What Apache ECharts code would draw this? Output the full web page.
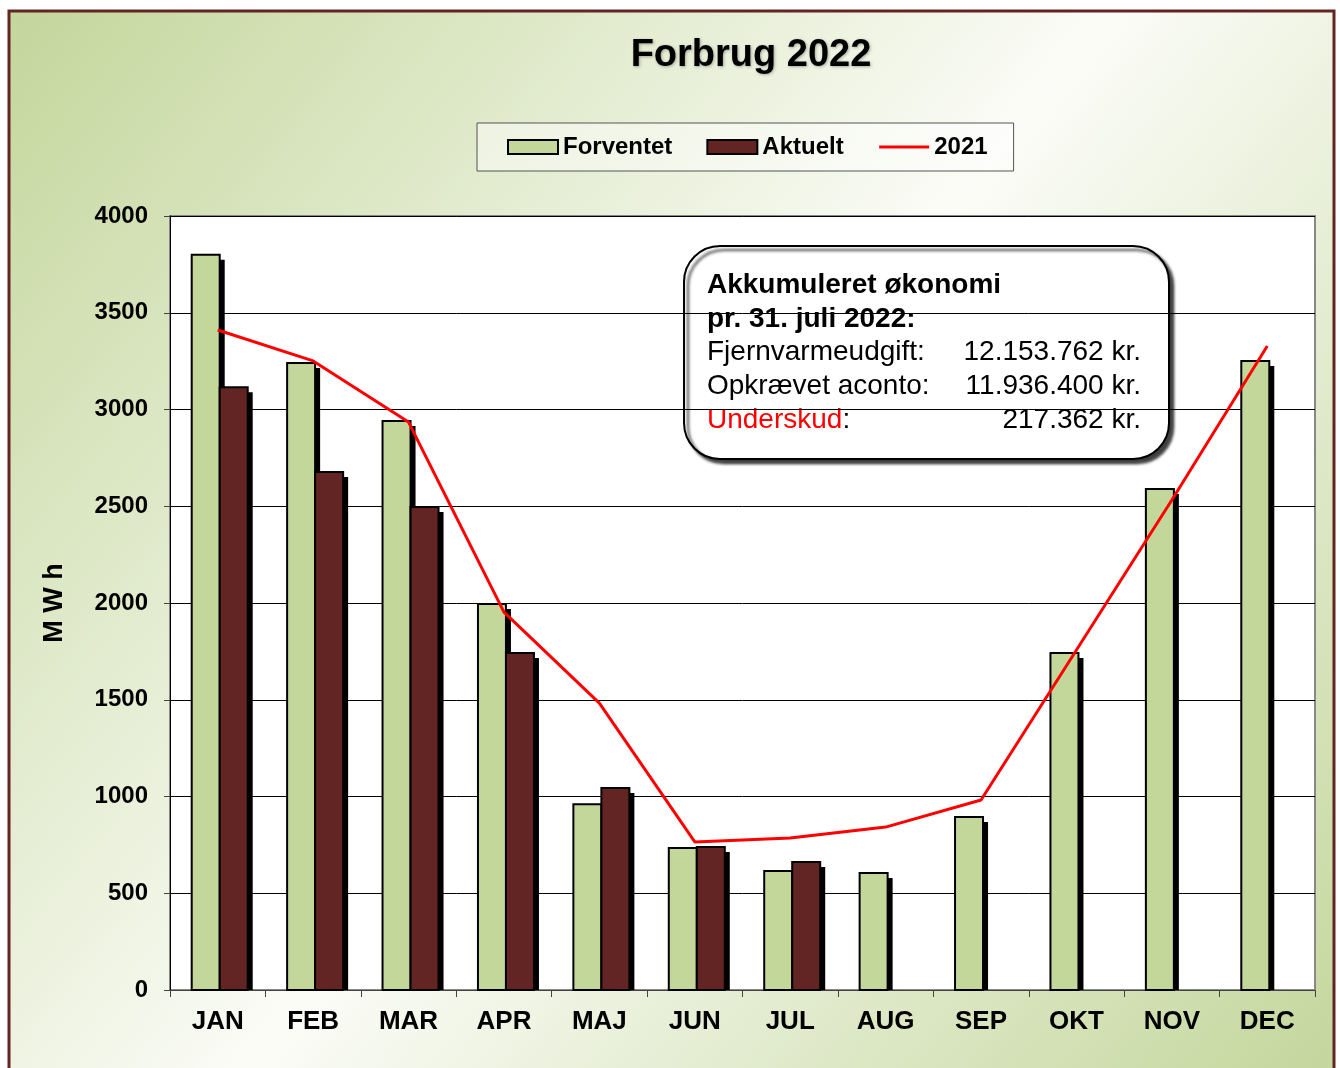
<!DOCTYPE html>
<html>
<head>
<meta charset="utf-8">
<script src="https://cdn.jsdelivr.net/npm/echarts@6/dist/echarts.min.js"></script>
<style>
  html, body { margin: 0; padding: 0; background: #fff; }
  #main { width: 1340px; height: 1068px; }
</style>
</head>
<body>
<div id="main"></div>
<script>
// data
const months = ['JAN', 'FEB', 'MAR', 'APR', 'MAJ', 'JUN', 'JUL', 'AUG', 'SEP', 'OKT', 'NOV', 'DEC']
const forventet = [3800, 3240, 2940, 1995, 960, 734, 615, 605, 894, 1742, 2589, 3251]
const aktuelt = [3115, 2677, 2496, 1742, 1044, 739, 661, null, null, null, null, null]
const forbrug2021 = [3411, 3251, 2935, 1953, 1483, 765, 785, 842, 982, 1757, 2532, 3328]
const yTicks = [0, 500, 1000, 1500, 2000, 2500, 3000, 3500, 4000]

// tekst i boksen
const boxTitle = ['Akkumuleret økonomi', 'pr. 31. juli 2022:']
const boxRows = [
  ['Fjernvarmeudgift:', '12.153.762 kr.'],
  ['Opkrævet aconto:', '11.936.400 kr.'],
  ['Underskud', '217.362 kr.']
]

const FONT = '"Liberation Sans", Arial, sans-serif'
const GREEN = '#c4d79b'
const MAROON = '#632523'
const BAR_W = 28
const chart = echarts.init(document.getElementById('main'))

// søjle med sort skygge forskudt ned/til højre
function barRenderer(side, color) {
  return function (params, api) {
    const v = api.value(1)
    if (v == null || isNaN(v)) return
    const top = api.coord([api.value(0), v])
    const base = api.coord([api.value(0), 0])
    const x = side < 0 ? top[0] - BAR_W + 2 : top[0] + 2
    const h = base[1] - top[1]
    return {
      type: 'group',
      children: [
        { type: 'rect', shape: { x: x + 5, y: top[1] + 5, width: BAR_W, height: Math.max(h - 5, 0) }, style: { fill: '#000' } },
        { type: 'rect', shape: { x: x, y: top[1], width: BAR_W, height: h }, style: { fill: color, stroke: '#000', lineWidth: 2 } }
      ]
    }
  }
}

// annotation box
const boxX = 683, boxY = 245
const boxChildren = [
  {
    type: 'rect',
    shape: { x: 0, y: 0, width: 485, height: 213, r: 36 },
    style: {
      fill: '#fff', stroke: '#000', lineWidth: 2,
      shadowColor: 'rgba(0,0,0,0.75)', shadowBlur: 3, shadowOffsetX: 4, shadowOffsetY: 4
    }
  }
]
boxTitle.forEach((t, i) => {
  boxChildren.push({
    type: 'text',
    style: {
      x: 23, y: 39 + i * 34, text: t, fill: '#000',
      font: 'bold 28px ' + FONT, verticalAlign: 'middle'
    }
  })
})
boxRows.forEach((row, i) => {
  const y = 106 + i * 34
  boxChildren.push({
    type: 'text',
    style: i === 2 ? {
      x: 23, y: y, text: '{r|' + row[0] + '}{k|:}', verticalAlign: 'middle',
      rich: {
        r: { fill: '#ff0000', font: '28px ' + FONT },
        k: { fill: '#000', font: '28px ' + FONT }
      }
    } : {
      x: 23, y: y, text: row[0], fill: '#000',
      font: '28px ' + FONT, verticalAlign: 'middle'
    }
  })
  boxChildren.push({
    type: 'text',
    style: {
      x: 457, y: y, text: row[1], fill: '#000',
      font: '28px ' + FONT, align: 'right', verticalAlign: 'middle'
    }
  })
})

const option = {
  animation: false,
  graphic: [
    {
      type: 'rect',
      z: -10,
      silent: true,
      shape: { x: 9, y: 11, width: 1325, height: 1080 },
      style: {
        fill: new echarts.graphic.LinearGradient(0, 0, 1, 1, [
          { offset: 0, color: '#c3d69b' },
          { offset: 0.5, color: '#fbfcf7' },
          { offset: 1, color: '#c3d69b' }
        ]),
        stroke: MAROON,
        lineWidth: 3
      }
    },
    {
      type: 'group',
      left: boxX,
      top: boxY,
      z: 100,
      children: boxChildren
    }
  ],
  title: {
    text: 'Forbrug 2022',
    left: 746,
    top: 32,
    textAlign: 'center',
    textStyle: {
      fontFamily: FONT, fontWeight: 'bold', fontSize: 38, color: '#000',
      textShadowColor: 'rgba(0,0,0,0.3)', textShadowBlur: 3, textShadowOffsetX: 1, textShadowOffsetY: 1
    }
  },
  legend: {
    left: 477,
    top: 123,
    padding: [12, 26, 12, 30],
    itemGap: 34,
    itemWidth: 50,
    itemHeight: 14,
    backgroundColor: 'rgba(255,255,255,0.45)',
    borderColor: '#555',
    borderWidth: 1,
    textStyle: { fontFamily: FONT, fontWeight: 'bold', fontSize: 24, color: '#000' },
    data: [
      { name: 'Forventet', icon: 'rect', itemStyle: { color: GREEN, borderColor: '#000', borderWidth: 2 } },
      { name: 'Aktuelt', icon: 'rect', itemStyle: { color: MAROON, borderColor: '#000', borderWidth: 2 } },
      { name: '2021', itemStyle: { opacity: 0 }, lineStyle: { width: 3, color: '#ff0000' } }
    ]
  },
  grid: {
    left: 170,
    right: 25,
    top: 216,
    bottom: 78,
    show: true,
    backgroundColor: '#fff',
    borderColor: '#888',
    borderWidth: 2
  },
  xAxis: {
    type: 'category',
    data: months,
    axisLine: { lineStyle: { color: '#444', width: 1 } },
    axisTick: { show: true, length: 7, lineStyle: { color: '#444' } },
    axisLabel: { fontFamily: FONT, fontWeight: 'bold', fontSize: 26, color: '#000', margin: 19 }
  },
  yAxis: {
    type: 'value',
    min: yTicks[0],
    max: yTicks[yTicks.length - 1],
    interval: 500,
    name: 'M W h',
    nameLocation: 'middle',
    nameGap: 102,
    nameRotate: 90,
    nameTextStyle: { fontFamily: FONT, fontWeight: 'bold', fontSize: 27, color: '#000' },
    axisLine: { show: true, lineStyle: { color: '#000', width: 1 } },
    axisTick: { show: true, length: 6, lineStyle: { color: '#444' } },
    axisLabel: {
      fontFamily: FONT, fontWeight: 'bold', fontSize: 24, color: '#000', margin: 22,
      formatter: v => String(v)
    },
    splitLine: { lineStyle: { color: '#000', width: 1 } }
  },
  series: [
    {
      name: 'Forventet',
      type: 'custom',
      renderItem: barRenderer(-1, GREEN),
      itemStyle: { color: GREEN, borderColor: '#000', borderWidth: 2 },
      encode: { x: 0, y: 1 },
      data: forventet.map((v, i) => [i, v])
    },
    {
      name: 'Aktuelt',
      type: 'custom',
      renderItem: barRenderer(1, MAROON),
      itemStyle: { color: MAROON, borderColor: '#000', borderWidth: 2 },
      encode: { x: 0, y: 1 },
      data: aktuelt.map((v, i) => [i, v]).filter(d => d[1] != null)
    },
    {
      name: '2021',
      type: 'line',
      data: forbrug2021,
      symbol: 'none',
      z: 5,
      itemStyle: { color: '#ff0000' },
      lineStyle: { color: '#ff0000', width: 3 }
    }
  ]
}

chart.setOption(option)
</script>
</body>
</html>
